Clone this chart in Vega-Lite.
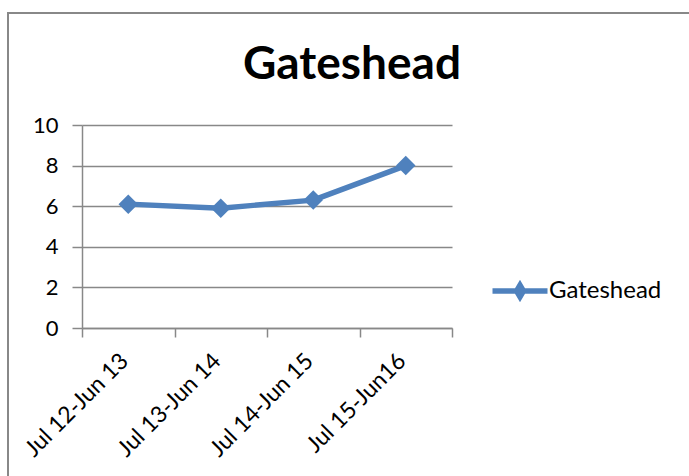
{
  "$schema": "https://vega.github.io/schema/vega-lite/v6.json",
  "width": 682,
  "height": 464,
  "autosize": {"type": "none"},
  "padding": {"left": 8, "top": 13, "right": -1, "bottom": -1},
  "background": "white",
  "config": {
    "view": {"stroke": "#888888", "strokeWidth": 2},
    "font": "Lato"
  },
  "title": {
    "text": "Gateshead",
    "font": "Lato",
    "fontSize": 46,
    "fontWeight": "bold",
    "color": "#000000",
    "anchor": "middle",
    "frame": "group",
    "baseline": "alphabetic",
    "offset": -112,
    "dx": 3
  },
  "data": {
    "values": [
      {"period": "Jul 12-Jun 13", "value": 6.1, "series": "Gateshead"},
      {"period": "Jul 13-Jun 14", "value": 5.9, "series": "Gateshead"},
      {"period": "Jul 14-Jun 15", "value": 6.3, "series": "Gateshead"},
      {"period": "Jul 15-Jun16", "value": 8.0, "series": "Gateshead"}
    ]
  },
  "encoding": {
    "x": {
      "field": "period",
      "type": "nominal",
      "sort": null,
      "scale": {"type": "band", "range": [74, 444], "paddingInner": 0, "paddingOuter": 0},
      "axis": {
        "title": null,
        "orient": "bottom",
        "offset": -149,
        "tickBand": "extent",
        "labelAngle": -45,
        "labelAlign": "right",
        "labelBaseline": "middle",
        "labelFont": "Lato",
        "labelFontSize": 23,
        "labelColor": "#000000",
        "labelPadding": 20,
        "labelOffset": -4,
        "domainColor": "#888888",
        "domainWidth": 1.5,
        "tickColor": "#888888",
        "tickWidth": 1.5,
        "tickSize": 9,
        "grid": false
      }
    },
    "y": {
      "field": "value",
      "type": "quantitative",
      "scale": {"domain": [0, 10], "range": [315, 112], "nice": false},
      "axis": {
        "title": null,
        "offset": -74,
        "values": [0, 2, 4, 6, 8, 10],
        "grid": true,
        "gridColor": "#888888",
        "gridWidth": 1.5,
        "domainColor": "#888888",
        "domainWidth": 1.5,
        "tickColor": "#888888",
        "tickWidth": 1.5,
        "tickSize": 10,
        "labelFont": "Lato",
        "labelFontSize": 22,
        "labelColor": "#000000",
        "labelPadding": 14
      }
    }
  },
  "layer": [
    {
      "mark": {"type": "line", "strokeWidth": 5.4, "strokeJoin": "round"},
      "encoding": {
        "color": {
          "field": "series",
          "type": "nominal",
          "scale": {"range": ["#4F81BD"]},
          "legend": {
            "title": null,
            "orient": "none",
            "legendX": 499,
            "legendY": 265,
            "padding": 0,
            "symbolType": "M-2.75,0H2.75M0,-0.6L0.35,0L0,0.6L-0.35,0Z",
            "symbolSize": 400,
            "symbolStrokeWidth": 5.4,
            "labelFont": "Lato",
            "labelFontSize": 24,
            "labelColor": "#000000",
            "labelOffset": 16,
            "encode": {
              "symbols": {
                "update": {
                  "fill": {"value": "#4F81BD"},
                  "stroke": {"value": "#4F81BD"},
                  "strokeWidth": {"value": 5.4}
                }
              }
            }
          }
        }
      }
    },
    {
      "mark": {"type": "point", "shape": "diamond", "filled": true, "size": 380, "opacity": 1, "color": "#4F81BD"}
    }
  ]
}
